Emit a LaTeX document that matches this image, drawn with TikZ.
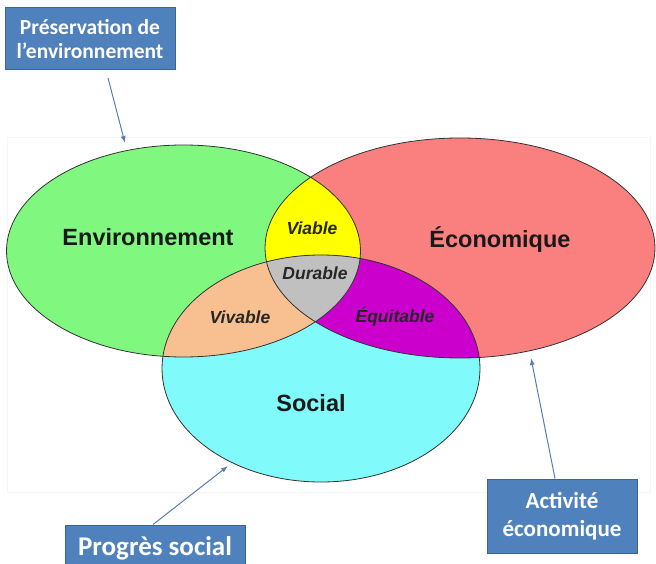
\documentclass[tikz,border=0pt]{standalone}
\usepackage{fontspec}
\setmainfont{Liberation Sans}
\newfontfamily\calibri{Carlito}
\usetikzlibrary{calc,arrows.meta}

\definecolor{envgreen}{HTML}{80F880}
\definecolor{ecored}{HTML}{FA8080}
\definecolor{socblue}{HTML}{80FAFA}
\definecolor{viableyellow}{HTML}{FFFF00}
\definecolor{vivableorange}{HTML}{F8C090}
\definecolor{equitablepurple}{HTML}{CC00CC}
\definecolor{durablegray}{HTML}{C0C0C0}
\definecolor{boxblue}{HTML}{4F81BD}
\definecolor{boxedge}{HTML}{3A6595}
\definecolor{arrowblue}{HTML}{5A7CB0}

\begin{document}
\begin{tikzpicture}[x=1pt, y=-1pt]

        % Styles for the words, the blue boxes and the pointers
        \tikzset{
            bigword/.style={font=\bfseries\fontsize{23.5}{25}\selectfont,
                text=black!90},
            smallword/.style={font=\bfseries\itshape\fontsize{17.5}{19}\selectfont,
                text=black!85},
            bluebox/.style={fill=boxblue, draw=boxedge, line width=1pt,
                text=white, align=center, inner sep=0pt,
                font=\calibri\bfseries\fontsize{21.5}{24}\selectfont},
            pointer/.style={draw=arrowblue, line width=1pt,
                -{Latex[length=7pt, width=5pt]}},
            rim/.style={draw=black!80, line width=0.8pt}
        }

        \useasboundingbox (0, 0) rectangle (656, 564);

        % Faint panel behind the diagram
        \draw[black!4] (7, 137) rectangle (650, 492);

        % Centres of the three ellipses
        \coordinate (E) at (183.5, 251);
        \coordinate (C) at (460, 248);
        \coordinate (S) at (321, 368.5);

        % Ellipses
        \fill[envgreen] (E) ellipse [x radius=177pt, y radius=106pt];
        \fill[ecored] (C) ellipse [x radius=195pt, y radius=110pt];
        \fill[socblue] (S) ellipse [x radius=159pt, y radius=113.5pt];

        % Overlaps
        \begin{scope}
            \clip (E) ellipse [x radius=177pt, y radius=106pt];
            \fill[viableyellow] (C) ellipse [x radius=195pt, y radius=110pt];
            \fill[vivableorange] (S) ellipse [x radius=159pt, y radius=113.5pt];
        \end{scope}
        \begin{scope}
            \clip (C) ellipse [x radius=195pt, y radius=110pt];
            \fill[equitablepurple] (S) ellipse [x radius=159pt, y radius=113.5pt];
            \clip (S) ellipse [x radius=159pt, y radius=113.5pt];
            \fill[durablegray] (E) ellipse [x radius=177pt, y radius=106pt];
        \end{scope}

        \begin{scope}[rim]
            \draw (E) ellipse [x radius=177pt, y radius=106pt];
            \draw (C) ellipse [x radius=195pt, y radius=110pt];
            \draw (S) ellipse [x radius=159pt, y radius=113.5pt];
        \end{scope}

        % Words in the diagram
        \node[bigword] (env) at (148, 237) {Environnement};
        \node[bigword] (eco) at (500, 240) {Économique};
        \node[bigword] (soc) at (311, 403) {Social};

        \node[smallword] (viable) at (312, 228) {Viable};
        \node[smallword] (durable) at (315, 273) {Durable};
        \node[smallword] (vivable) at (240, 317) {Vivable};
        \node[smallword] (equitable) at (395, 317) {Équitable};

        % Blue boxes
        \node[bluebox, minimum width=170pt, minimum height=62pt]
            (presbox) at (90, 39) {Préservation de\\l’environnement};
        \node[bluebox, minimum width=180pt, minimum height=46pt,
            font=\calibri\bfseries\fontsize{27}{29}\selectfont]
            (progbox) at (155, 548) {Progrès social};
        \node[bluebox, minimum width=150pt, minimum height=74pt,
            font=\calibri\bfseries\fontsize{23}{28}\selectfont]
            (actbox) at (562, 516) {Activité\\économique};

        % Pointers from the boxes to the ellipses
        \coordinate (prestail) at (108, 78);
        \coordinate (prestip) at (125, 143);
        \coordinate (progtip) at (228, 466);
        \coordinate (acttip) at (531, 358);

        \draw[pointer] (prestail) -- (prestip);
        \draw[pointer] (progbox.north -| 153, 0) -- (progtip);
        \draw[pointer] (actbox.north -| 555, 0) -- (acttip);

\end{tikzpicture}
\end{document}
